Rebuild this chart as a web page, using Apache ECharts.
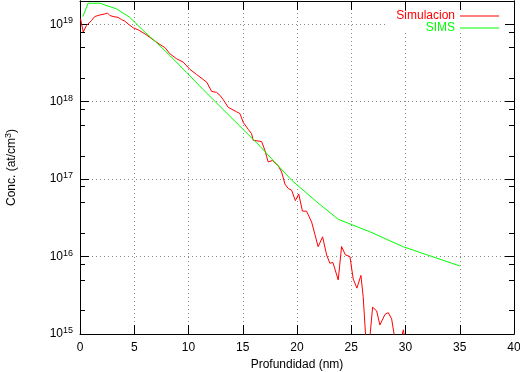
<!DOCTYPE html>
<html><head><meta charset="utf-8">
<script src="https://cdn.jsdelivr.net/npm/echarts@6/dist/echarts.min.js"></script>
<style>html,body{margin:0;padding:0;background:#fff}#c{width:520px;height:372px}</style>
</head><body><div id="c"></div>
<script>
// Simulacion (red)
const depthSim = [0.05,0.30,0.60,1.06,1.36,1.83,2.29,2.52,2.75,3.05,
  3.51,3.83,4.13,4.44,4.90,5.36,5.98,6.44,6.90,7.36,
  7.82,8.28,8.90,9.51,10.13,10.74,11.35,11.69,12.13,12.59,
  12.90,13.19,13.66,14.43,14.74,15.04,15.50,15.81,15.96,16.74,
  17.04,17.34,17.73,17.96,18.27,18.58,18.89,19.19,19.50,19.85,
  20.16,20.50,20.88,21.35,21.95,22.36,22.73,23.03,23.31,23.80,
  24.11,24.46,24.88,25.18,25.52,25.89,26.10,26.49,26.97,27.34,
  27.64,28.11,28.41,28.72,29.26,29.80,30.13];
const concSim = [1.18e19,7.96e18,9.66e18,1.12e19,1.26e19,1.32e19,1.36e19,1.40e19,1.30e19,1.26e19,
  1.23e19,1.15e19,1.10e19,1.01e19,9.02e18,8.49e18,7.54e18,6.76e18,6.09e18,5.49e18,
  5.02e18,4.17e18,3.59e18,3.25e18,2.62e18,2.25e18,1.94e18,1.78e18,1.36e18,1.32e18,
  1.21e18,1.07e18,8.47e17,7.41e17,7.03e17,5.43e17,4.41e17,3.88e17,3.18e17,3.06e17,
  2.36e17,1.67e17,1.74e17,1.62e17,1.49e17,1.24e17,8.63e16,7.59e16,7.21e16,5.28e16,
  6.44e16,3.87e16,3.85e16,2.79e16,1.34e16,1.80e16,1.05e16,8.20e15,8.39e15,4.99e15,
  1.35e16,1.05e16,1.00e16,5.14e15,3.91e15,5.71e15,3.04e15,4.0e14,2.22e15,1.99e15,
  1.31e15,1.79e15,1.89e15,1.57e15,5.4e14,1.13e15,6.3e14];
// SIMS (green)
const depthSims = [0.26,0.75,1.83,3.37,4.59,5.82,7.05,8.28,9.82,11.32,13.82,16.59,19.50,21.81,23.80,26.72,29.79,35.0];
const concSims = [1.26e19,1.87e19,1.87e19,1.58e19,1.23e19,8.32e18,5.82e18,3.96e18,2.39e18,1.45e18,6.49e17,2.66e17,9.71e16,5.10e16,3.03e16,2.09e16,1.34e16,7.57e15];
// ticks
const xMin = 0, xMax = 40, xStep = 5;
const yMin = 1e15, yMax = 2e19;
const yMinorTicks = [2e15,5e15,8e15,2e16,5e16,8e16,2e17,5e17,8e17,2e18,5e18,8e18];

const FONT = '"Liberation Sans", Arial, Helvetica, sans-serif';
const zip = (a, b) => a.map((v, i) => [v, b[i]]);
const supLabel = v => {
  const l = Math.log10(v), e = Math.round(l);
  if (Math.abs(l - e) > 1e-6) return '';
  return '{b|10}{s|' + e + '}';
};
const gridLine = {show: true, showMinLine: false, showMaxLine: false, lineStyle: {color: '#888', width: 1, type: [1, 3]}};
const blackLine = {show: true, onZero: false, lineStyle: {color: '#000', width: 1}};
const logBase = {type: 'log', logBase: 10, min: yMin, max: yMax};
const xBase = {type: 'value', min: xMin, max: xMax, interval: xStep};

const chart = echarts.init(document.getElementById('c'), null, {renderer: 'canvas'});
chart.setOption({
  animation: false,
  backgroundColor: '#fff',
  textStyle: {fontFamily: FONT},
  grid: {left: 80, right: 6, top: 1, bottom: 38, containLabel: false, outerBoundsMode: 'none'},
  legend: {
    orient: 'vertical', right: 21, top: 10, padding: 0, itemGap: 0, align: 'right',
    itemWidth: 39, itemHeight: 1, icon: 'rect', selectedMode: false,
    textStyle: {fontSize: 12, fontFamily: FONT},
    data: [{name: 'Simulacion', textStyle: {color: '#ff0000'}}, {name: 'SIMS', textStyle: {color: '#00ff00'}}]
  },
  graphic: [{type: 'rect', z: 1, shape: {x: 388, y: 2, width: 125, height: 31}, style: {fill: '#fff'}}],
  xAxis: [
    Object.assign({}, xBase, {
      position: 'bottom', z: 0,
      axisLine: blackLine,
      axisTick: {show: true, inside: true, length: 9, lineStyle: {color: '#000'}},
      axisLabel: {color: '#000', fontSize: 12, fontFamily: FONT, margin: 8},
      splitLine: gridLine,
      name: 'Profundidad (nm)', nameLocation: 'middle', nameGap: 23,
      nameTextStyle: {color: '#000', fontSize: 12, fontFamily: FONT}
    }),
    Object.assign({}, xBase, {
      position: 'top', z: 3,
      axisLine: blackLine,
      axisTick: {show: true, inside: true, length: 9, lineStyle: {color: '#000'}},
      axisLabel: {show: false}, splitLine: {show: false}
    })
  ],
  yAxis: [
    Object.assign({}, logBase, {
      position: 'left', z: 0,
      axisLine: blackLine,
      axisTick: {show: true, inside: true, length: 9, lineStyle: {color: '#000'}},
      axisLabel: {
        formatter: supLabel, margin: 7,
        rich: {
          b: {fontSize: 12, fontFamily: FONT, color: '#000'},
          s: {fontSize: 9, fontFamily: FONT, color: '#000', padding: [0, 0, 7, 0]}
        }
      },
      splitLine: gridLine,
      name: '{n|Conc. (at/cm}{s|3}{n|)}', nameLocation: 'middle', nameGap: 60, nameRotate: 90,
      nameTextStyle: {
        rich: {
          n: {fontSize: 12, fontFamily: FONT, color: '#000'},
          s: {fontSize: 9, fontFamily: FONT, color: '#000', padding: [0, 0, 7, 0]}
        }
      }
    }),
    Object.assign({}, logBase, {
      position: 'left', z: 3,
      axisLine: blackLine,
      axisTick: {show: true, inside: true, length: 5, customValues: yMinorTicks, lineStyle: {color: '#000'}},
      axisLabel: {show: false}, splitLine: {show: false}
    }),
    Object.assign({}, logBase, {
      position: 'right', z: 3,
      axisLine: blackLine,
      axisTick: {show: true, inside: true, length: 9, lineStyle: {color: '#000'}},
      axisLabel: {show: false}, splitLine: {show: false}
    }),
    Object.assign({}, logBase, {
      position: 'right', z: 3,
      axisLine: blackLine,
      axisTick: {show: true, inside: true, length: 5, customValues: yMinorTicks, lineStyle: {color: '#000'}},
      axisLabel: {show: false}, splitLine: {show: false}
    })
  ],
  series: [
    {name: 'Simulacion', type: 'line', xAxisIndex: 0, yAxisIndex: 0, data: zip(depthSim, concSim),
     showSymbol: false, symbol: 'none', clip: true, color: '#ff0000', lineStyle: {color: '#ff0000', width: 1}},
    {name: 'SIMS', type: 'line', xAxisIndex: 0, yAxisIndex: 0, data: zip(depthSims, concSims),
     showSymbol: false, symbol: 'none', clip: true, color: '#00ff00', lineStyle: {color: '#00ff00', width: 1}}
  ]
});
</script>
</body></html>
